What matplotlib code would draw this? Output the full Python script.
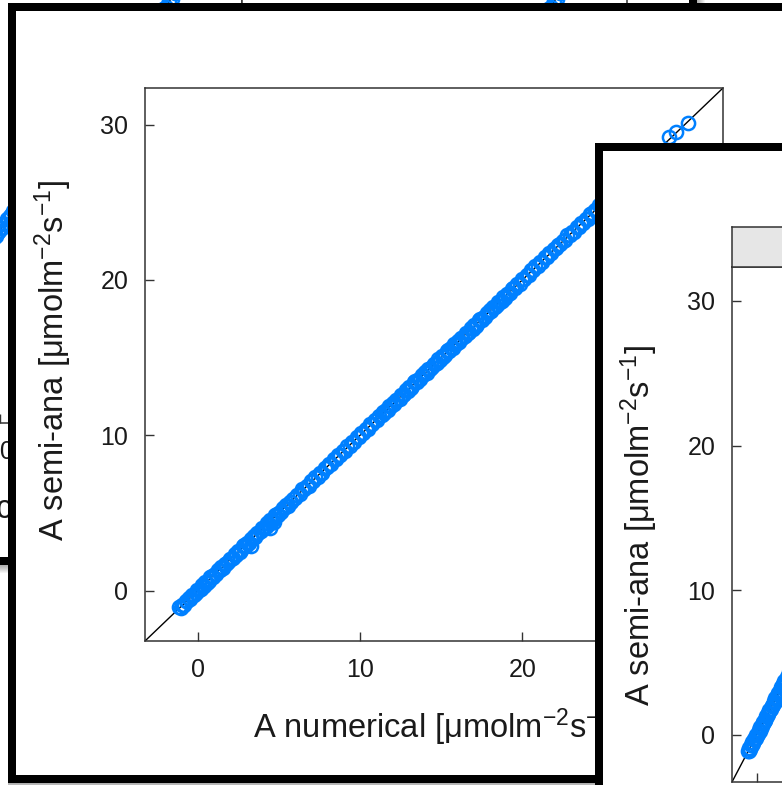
import matplotlib
matplotlib.use("Agg")
import matplotlib.pyplot as plt
from matplotlib.patches import Rectangle

plt.rcParams['font.family'] = ['Liberation Sans', 'DejaVu Sans']
plt.rcParams['mathtext.fontset'] = 'custom'
plt.rcParams['mathtext.rm'] = 'Liberation Sans'
plt.rcParams['mathtext.it'] = 'Liberation Sans:italic'
plt.rcParams['mathtext.bf'] = 'Liberation Sans:bold'

# ---- data: numerical vs semi-analytical assimilation rate ----
x_numerical = [
    -1.15, -1.06, -0.95, -0.86, -0.75, -0.66, -0.55, -0.46, -0.35, -0.26,
    -0.12, -0.03, 0.07, 0.18, 0.27, 0.38, 0.47, 0.58, 0.67, 0.78,
    0.85, 0.94, 1.05, 1.14, 1.25, 1.34, 1.45, 1.54, 1.65, 1.74,
    1.88, 1.97, 2.07, 2.18, 2.27, 2.38, 2.47, 2.58, 2.67, 2.78,
    2.85, 2.94, 3.05, 3.14, 3.25, 3.34, 3.45, 3.54, 3.65, 3.74,
    3.88, 3.97, 4.07, 4.18, 4.27, 4.38, 4.47, 4.58, 4.67, 4.78,
    4.85, 4.94, 5.05, 5.14, 5.25, 5.34, 5.45, 5.54, 5.65, 5.74,
    5.85, 5.98, 6.14, 6.27, 6.42, 6.55, 6.70, 6.83, 6.98, 7.12,
    7.25, 7.38, 7.54, 7.67, 7.82, 7.95, 8.10, 8.23, 8.38, 8.52,
    8.65, 8.78, 8.94, 9.07, 9.22, 9.35, 9.50, 9.63, 9.78, 9.92,
    10.05, 10.18, 10.34, 10.47, 10.62, 10.75, 10.90, 11.03, 11.18, 11.32,
    11.40, 11.49, 11.60, 11.69, 11.80, 11.89, 12.00, 12.09, 12.20, 12.29,
    12.43, 12.52, 12.62, 12.73, 12.82, 12.93, 13.02, 13.13, 13.22, 13.33,
    13.40, 13.49, 13.60, 13.69, 13.80, 13.89, 14.00, 14.09, 14.20, 14.29,
    14.43, 14.52, 14.62, 14.73, 14.82, 14.93, 15.02, 15.13, 15.22, 15.33,
    15.40, 15.49, 15.60, 15.69, 15.80, 15.89, 16.00, 16.09, 16.20, 16.29,
    16.43, 16.52, 16.62, 16.73, 16.82, 16.93, 17.02, 17.13, 17.22, 17.33,
    17.40, 17.49, 17.60, 17.69, 17.80, 17.89, 18.00, 18.09, 18.20, 18.29,
    18.43, 18.52, 18.62, 18.73, 18.82, 18.93, 19.02, 19.13, 19.22, 19.33,
    19.40, 19.53, 19.69, 19.82, 19.97, 20.10, 20.25, 20.38, 20.53, 20.67,
    20.80, 20.93, 21.09, 21.22, 21.37, 21.50, 21.65, 21.78, 21.93, 22.07,
    22.20, 22.33, 22.49, 22.62, 22.77, 22.90, 23.05, 23.18, 23.33, 23.47,
    23.60, 23.73, 23.89, 24.02, 24.17, 24.30, 24.45, 24.58, 24.73, 24.87,
    25.05, 25.30, 25.58, 25.85, 26.15, 26.42, 26.75, 27.05, 27.40, 27.72,
    28.05, 28.38, 29.02, 29.44, 30.20, 3.25, 4.42, 4.70,
]
y_semi_ana = [
    -1.09, -1.11, -0.93, -0.94, -0.66, -0.68, -0.51, -0.53, -0.27, -0.29,
    -0.19, 0.02, 0.01, 0.10, 0.35, 0.31, 0.54, 0.51, 0.63, 0.85,
    0.91, 0.89, 1.07, 1.06, 1.34, 1.32, 1.49, 1.47, 1.73, 1.71,
    1.81, 2.02, 2.01, 2.10, 2.35, 2.31, 2.54, 2.51, 2.63, 2.85,
    2.91, 2.89, 3.07, 3.06, 3.34, 3.32, 3.49, 3.47, 3.73, 3.71,
    3.81, 4.02, 4.01, 4.10, 4.35, 4.31, 4.54, 4.51, 4.63, 4.85,
    4.91, 4.89, 5.07, 5.06, 5.34, 5.32, 5.49, 5.47, 5.73, 5.71,
    5.91, 5.93, 6.17, 6.19, 6.51, 6.53, 6.75, 6.76, 7.06, 7.08,
    7.31, 7.33, 7.57, 7.59, 7.91, 7.93, 8.15, 8.16, 8.46, 8.48,
    8.71, 8.73, 8.97, 8.99, 9.31, 9.33, 9.55, 9.56, 9.86, 9.88,
    10.11, 10.13, 10.37, 10.39, 10.71, 10.73, 10.95, 10.96, 11.26, 11.28,
    11.46, 11.44, 11.62, 11.61, 11.89, 11.87, 12.04, 12.02, 12.28, 12.26,
    12.36, 12.57, 12.56, 12.65, 12.90, 12.86, 13.09, 13.06, 13.18, 13.40,
    13.46, 13.44, 13.62, 13.61, 13.89, 13.87, 14.04, 14.02, 14.28, 14.26,
    14.36, 14.57, 14.56, 14.65, 14.90, 14.86, 15.09, 15.06, 15.18, 15.40,
    15.46, 15.44, 15.62, 15.61, 15.89, 15.87, 16.04, 16.02, 16.28, 16.26,
    16.36, 16.57, 16.56, 16.65, 16.90, 16.86, 17.09, 17.06, 17.18, 17.40,
    17.46, 17.44, 17.62, 17.61, 17.89, 17.87, 18.04, 18.02, 18.28, 18.26,
    18.36, 18.57, 18.56, 18.65, 18.90, 18.86, 19.09, 19.06, 19.18, 19.40,
    19.46, 19.48, 19.72, 19.74, 20.06, 20.08, 20.30, 20.31, 20.61, 20.63,
    20.86, 20.88, 21.12, 21.14, 21.46, 21.48, 21.70, 21.71, 22.01, 22.03,
    22.26, 22.28, 22.52, 22.54, 22.86, 22.88, 23.10, 23.11, 23.41, 23.43,
    23.66, 23.68, 23.92, 23.94, 24.26, 24.28, 24.50, 24.51, 24.81, 24.83,
    25.11, 25.26, 25.66, 25.79, 26.22, 26.37, 26.83, 27.00, 27.47, 27.66,
    28.12, 28.31, 29.20, 29.50, 30.10, 2.88, 4.05, 4.38,
]
axis_ticks = [0, 10, 20, 30]
strip_label = 'fluctuating light'
x_label = 'A numerical [μmolm$^{-2}$s$^{-1}$]'
y_label = 'A semi-ana [μmolm$^{-2}$s$^{-1}$]'

# ---- figure geometry (pixel based) ----
W, H, DPI = 782, 785, 100
fig = plt.figure(figsize=(W / DPI, H / DPI), dpi=DPI)
fig.patch.set_facecolor('white')

BLUE = '#0080ff'
LIM = (-3.25, 32.35)
TICK_PT = 18
LAB_PT = 23.5
AXCOL = '#333333'
TXTCOL = '#1a1a1a'


def px_rect(x0, y0, x1, y1):
    return [x0 / W, 1 - y1 / H, (x1 - x0) / W, (y1 - y0) / H]


def px_text(x, y, s, **kw):
    return fig.text(x / W, 1 - y / H, s, **kw)


def add_rect(x0, y0, x1, y1, z, **kw):
    r = Rectangle((x0 / W, 1 - y1 / H), (x1 - x0) / W, (y1 - y0) / H,
                  transform=fig.transFigure, zorder=z, **kw)
    fig.add_artist(r)


def card(x0, y0, x1, y1, border, z):
    # soft drop shadow, then black frame with white interior
    for k in range(1, 9):
        add_rect(x0, y0, x1 + k, y1 + k, z - 0.05, facecolor='black',
                 edgecolor='none', alpha=0.045)
    add_rect(x0, y0, x1, y1, z, facecolor='black', edgecolor='none')
    add_rect(x0 + border, y0 + border, x1 - border, y1 - border, z + 0.01,
             facecolor='white', edgecolor='none')


def scatter_panel(rect, z, show_x=True, show_y=True):
    ax = fig.add_axes(px_rect(*rect), zorder=z)
    ax.set_facecolor('white')
    ax.plot(LIM, LIM, color='black', lw=1.0, zorder=1)
    ax.plot(x_numerical, y_semi_ana, ls='none', marker='o', ms=9.5,
            mfc='none', mec=BLUE, mew=1.8, zorder=2)
    ax.set_xlim(LIM)
    ax.set_ylim(LIM)
    ax.set_xticks(axis_ticks)
    ax.set_yticks(axis_ticks)
    ax.tick_params(direction='in', length=6.5, width=1.0, color=AXCOL,
                   labelsize=TICK_PT, pad=12, labelcolor=TXTCOL,
                   labelbottom=show_x, labelleft=show_y)
    for s in ax.spines.values():
        s.set_color(AXCOL)
        s.set_linewidth(1.1)
    return ax


# ---- back panel: three conditions side by side ----
card(-700, -500, 697, 565, 8, 1)
scatter_panel((-528, -97, -143, 423), 1.5, show_y=True)
scatter_panel((-143, -97, 242, 423), 1.5, show_y=False)
scatter_panel((242, -97, 627, 423), 1.5, show_y=False)
px_text(49.5, 519, x_label, ha='center', va='baseline', fontsize=LAB_PT,
        color=TXTCOL, zorder=1.6)

# ---- middle panel: single comparison ----
card(8, 3, 1300, 783, 8, 3)
scatter_panel((145, 88, 723, 641), 3.5)
px_text(437, 738, x_label, ha='center', va='baseline', fontsize=LAB_PT,
        color=TXTCOL, zorder=3.6)
px_text(64, 360, y_label, rotation=90, rotation_mode='anchor', ha='center',
        va='baseline', fontsize=LAB_PT, color=TXTCOL, zorder=3.6)

# ---- front panel: conditioned plot with strip ----
card(595, 143, 1400, 1200, 8, 5)
scatter_panel((732, 267, 1002, 782), 5.5, show_x=False)
strip = fig.add_axes(px_rect(732, 227, 1002, 267), zorder=5.5)
strip.set_facecolor('#e6e6e6')
strip.set_xticks([])
strip.set_yticks([])
for s in strip.spines.values():
    s.set_color(AXCOL)
    s.set_linewidth(1.1)
strip.text(0.5, 0.5, strip_label, transform=strip.transAxes, ha='center',
           va='center', fontsize=TICK_PT, color=TXTCOL)
px_text(650, 525, y_label, rotation=90, rotation_mode='anchor', ha='center',
        va='baseline', fontsize=LAB_PT, color=TXTCOL, zorder=5.6)

fig.savefig('out.png', dpi=DPI)
